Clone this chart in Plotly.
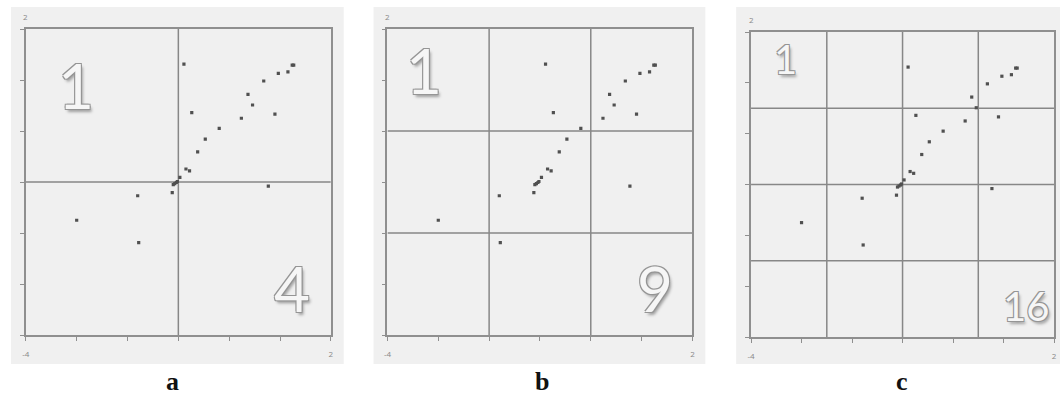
import plotly.graph_objects as go

# Data (same points in all three panels)
xs = [-0.89, 1.24, 1.27, 1.156, 0.967, 0.68, 0.37, 0.46, -0.736, 0.90, 0.24,
      -0.196, -0.47, -0.62, -0.85, -0.78, -0.97, -1.02, -1.04, -1.07, -1.10,
      -1.12, 0.77, -1.80, -3.0, -1.78]
ys = [1.31, 1.29, 1.29, 1.16, 1.13, 0.98, 0.72, 0.51, 0.36, 0.33, 0.25,
      0.05, -0.16, -0.41, -0.745, -0.78, -0.91, -0.99, -1.01, -1.03, -1.05,
      -1.21, -1.08, -1.27, -1.75, -2.19]

panel_names = ["a", "b", "c"]
divisions = [2, 3, 4]
cell_counts = ["4", "9", "16"]
axis_min, axis_max = -4, 2
tick_vals = [-4, -3, -2, -1, 0, 1, 2]
tick_text = ["-4", "", "", "", "", "", "2"]

W, H = 1063, 396
# plot-area pixel boxes (left, right, top, bottom) and background boxes
plot_px = [(22, 329, 29, 335), (386, 693, 29, 335), (752, 1057, 32, 337)]
bg_px = [(7, 342, 7, 364), (372, 706, 7, 364), (737, 1063, 7, 364)]
label_x = [170, 542, 904]
big_one = [(72, 85, 62), (423, 70, 62), (787, 59, 40)]
big_n = [(290, 288, 62), (655, 288, 62), (1029, 306, 40)]

LINE = "#8f8f8f"
GRID = "#878787"
BG = "#f0f0f0"
shadow = ("-1px -1px 0 #959595, 1px -1px 0 #959595, -1px 1px 0 #959595, "
          "1px 1px 0 #959595, 2px 3px 3px #a0a0a0")

fig = go.Figure()
shapes = []
annotations = []

for i in range(3):
    sx = "" if i == 0 else str(i + 1)
    xa, ya = "x" + sx, "y" + sx
    l, r, t, b = plot_px[i]
    fig.add_trace(go.Scatter(
        x=xs, y=ys, mode="markers", xaxis=xa, yaxis=ya,
        marker=dict(size=3.2, color="#505050", symbol="square"),
        showlegend=False, hoverinfo="skip"))
    axis_common = dict(range=[axis_min, axis_max], showgrid=False, zeroline=False,
                       showline=True, linecolor=LINE, linewidth=1.5, mirror=True,
                       ticks="outside", ticklen=4, tickcolor=LINE, tickwidth=1.2,
                       tickvals=tick_vals)
    fig.update_layout(**{
        "xaxis" + sx: dict(axis_common, domain=[l / W, r / W], anchor=ya,
                           ticktext=tick_text, tickfont=dict(size=8, color="#888"),
                           ticklabelstandoff=7),
        "yaxis" + sx: dict(axis_common, domain=[1 - b / H, 1 - t / H], anchor=xa,
                           showticklabels=False),
    })
    # background panel
    bl, br, bt, bb = bg_px[i]
    shapes.append(dict(type="rect", xref="paper", yref="paper", layer="below",
                       x0=bl / W, x1=br / W, y0=1 - bb / H, y1=1 - bt / H,
                       fillcolor=BG, line=dict(width=0)))
    # grid dividers
    n = divisions[i]
    for k in range(1, n):
        v = axis_min + (axis_max - axis_min) * k / n
        shapes.append(dict(type="line", xref=xa, yref=ya, x0=v, x1=v,
                           y0=axis_min, y1=axis_max, layer="below",
                           line=dict(color=GRID, width=1.5)))
        shapes.append(dict(type="line", xref=xa, yref=ya, y0=v, y1=v,
                           x0=axis_min, x1=axis_max, layer="below",
                           line=dict(color=GRID, width=1.5)))
    # y-axis top label
    annotations.append(dict(x=axis_min, y=axis_max, xref=xa, yref=ya, text="2",
                            showarrow=False, yshift=12, xanchor="center",
                            font=dict(size=8, color="#888")))
    # panel letter
    annotations.append(dict(x=label_x[i] / W, y=1 - 381 / H, xref="paper", yref="paper",
                            text="<b>%s</b>" % panel_names[i], showarrow=False,
                            xanchor="center", yanchor="middle",
                            font=dict(family="Liberation Serif", size=26, color="#111")))
    # large embossed numbers
    for (px, py, fs), txt in ((big_one[i], "1"), (big_n[i], cell_counts[i])):
        annotations.append(dict(x=px / W, y=1 - py / H, xref="paper", yref="paper",
                                text=txt, showarrow=False,
                                xanchor="center", yanchor="middle",
                                font=dict(family="Lato", size=fs, color="#f6f6f6",
                                          shadow=shadow)))

fig.update_layout(width=W, height=H, margin=dict(l=0, r=0, t=0, b=0),
                  paper_bgcolor="white", plot_bgcolor=BG,
                  shapes=shapes, annotations=annotations)

fig.write_html("out.html", config={"displayModeBar": False},
               post_script="document.body.style.margin='0';document.body.style.overflow='hidden';")
